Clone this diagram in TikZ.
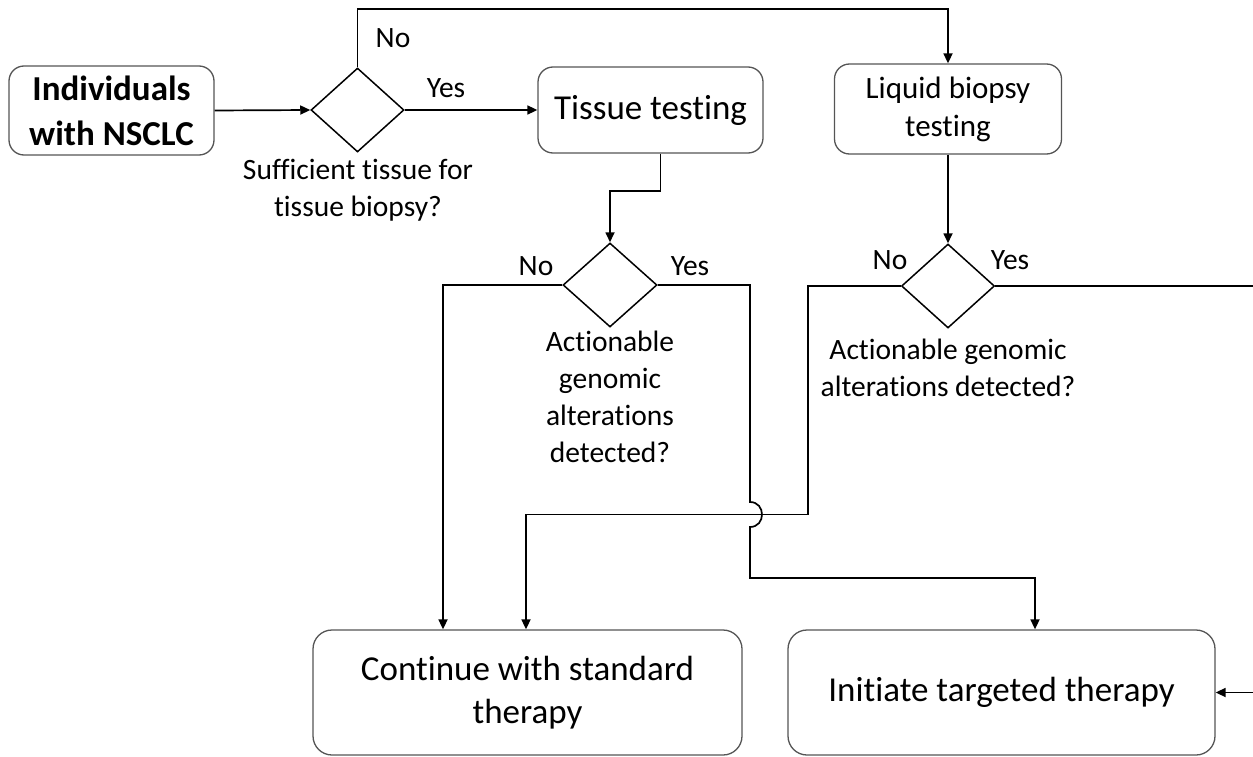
\documentclass[tikz,border=0pt]{standalone}
\usepackage{fontspec}
\setmainfont{Carlito}[Ligatures=NoCommon]
\usetikzlibrary{shapes.geometric,arrows.meta}
\definecolor{boxgray}{RGB}{85,85,85}
\begin{document}
\begin{tikzpicture}[x=1pt,y=-1pt,
  box/.style={draw=boxgray, line width=1.3pt, rounded corners=15pt, align=center, inner sep=0pt},
  dec/.style={diamond, draw=black, line width=1.5pt, inner sep=0pt, aspect=1.1},
  conn/.style={line width=1.7pt, -{Triangle[length=10pt,width=9pt]}},
  lbl/.style={font=\fontsize{29.5}{37}\selectfont, align=center, inner sep=0pt}
]
\useasboundingbox (0,0) rectangle (1253,757);

% boxes
\node[box, minimum width=205pt, minimum height=89pt, font=\bfseries\fontsize{35}{45}\selectfont] (ind) at (111.5,110.5) {Individuals\\with NSCLC};
\node[box, minimum width=225pt, minimum height=86pt, font=\fontsize{35}{43}\selectfont] (tis) at (650.5,110) {Tissue testing};
\node[box, minimum width=227pt, minimum height=90pt, font=\fontsize{31}{38}\selectfont] (liq) at (948,109) {Liquid biopsy\\testing};
\node[box, rounded corners=19pt, minimum width=429pt, minimum height=125pt, font=\fontsize{35}{43}\selectfont] (cont) at (527.5,692.5) {Continue with standard\\therapy};
\node[box, rounded corners=19pt, minimum width=427pt, minimum height=125pt, font=\fontsize{35}{43}\selectfont] (init) at (1001.5,692.5) {Initiate targeted therapy};

% decisions
\node[dec, minimum width=93pt, minimum height=84pt] (d1) at (357.5,110) {};
\node[dec, minimum width=94pt, minimum height=84pt] (d2) at (610,285) {};
\node[dec, minimum width=93pt, minimum height=84pt] (d3) at (948,286) {};

% labels
\node[lbl] (l1) at (358,190) {Sufficient tissue for\\tissue biopsy?};
\node[lbl] (l2) at (610,397) {Actionable\\genomic\\alterations\\detected?};
\node[lbl] (l3) at (948,368) {Actionable genomic\\alterations detected?};
\node[lbl] (no1) at (393,38) {No};
\node[lbl] (yes1) at (446,88) {Yes};
\node[lbl] (no2) at (536,266) {No};
\node[lbl] (yes2) at (690,266) {Yes};
\node[lbl] (no3) at (890,260) {No};
\node[lbl] (yes3) at (1010,260) {Yes};

% coordinates
\coordinate (top) at (0,9);
\coordinate (redge) at (1262,286);

% connectors
\draw[conn] (ind.east) -- (d1.west);
\draw[conn] (d1.north) -- (d1.north |- top) -| (liq.north);
\draw[conn] (d1.east) -- (tis.west);
\draw[conn] ([xshift=10pt]tis.south) -- ++(0,37) -| (d2.north);
\draw[conn] (liq.south) -- (d3.north);
\draw[conn] (d2.west) -| ([xshift=-84.5pt]cont.north);
\draw[conn] (d2.east) -| (750,502) .. controls (766,502) and (766,527) .. (750,527) -- (750,578) -| ([xshift=33.5pt]init.north);
\draw[conn] (d3.west) -| (808,514.5) -| ([xshift=-1.5pt]cont.north);
\draw[conn] (d3.east) -- (redge) |- (init.east);
\end{tikzpicture}
\end{document}
